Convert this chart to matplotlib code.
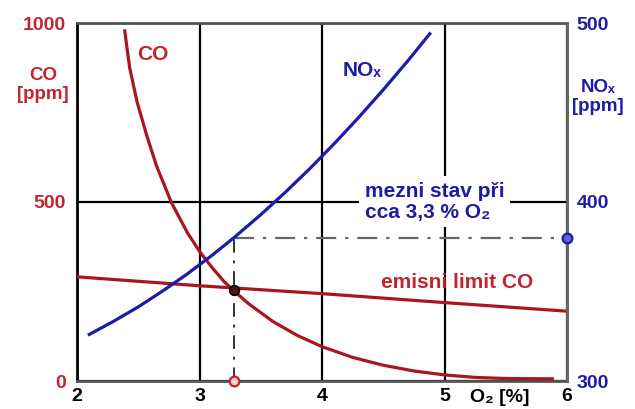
import numpy as np
import matplotlib.pyplot as plt

plt.rcParams['font.family'] = ['Liberation Sans', 'DejaVu Sans']
plt.rcParams['font.weight'] = 'bold'

# CO [ppm] vs O2 [%]  (left axis)
co_x = [2.39, 2.41, 2.43, 2.49, 2.57, 2.65, 2.77, 2.90, 3.00, 3.10, 3.20, 3.27, 3.40,
        3.60, 3.80, 4.00, 4.25, 4.50, 4.75, 5.00, 5.25, 5.50, 5.88]
co_y = [978, 925, 875, 780, 685, 600, 499, 415, 362, 318, 278, 255, 216,
        166, 127, 96, 66, 44, 28, 17, 10, 7, 6]

# NOx [ppm] vs O2 [%]  (right axis)
nox_x = [2.10, 2.30, 2.50, 2.70, 2.90, 3.10, 3.28, 3.50, 3.70, 3.90, 4.10, 4.30, 4.50, 4.70, 4.88]
nox_y = [326, 333.4, 341.4, 350.3, 359.8, 370.1, 380, 392.9, 405.4, 418.6, 432.6, 447.3,
         462.7, 478.8, 494]

# emission limit CO
lim_x = [2, 3, 4, 5, 6]
lim_y = [291, 266, 244, 219, 195]

# operating point
o2_limit = 3.28
nox_limit = 380
co_limit = 255

x_ticks = [2, 3, 4, 5, 6]
co_ticks = [0, 500, 1000]
nox_ticks = [300, 400, 500]

red = '#c4242c'
dred = '#a8161e'
blue = '#1c1ca6'

fig = plt.figure(figsize=(6.35, 4.09), dpi=100)
ax = fig.add_axes([77/635, 1-381/409, 490/635, 358/409])
ax2 = ax.twinx()

ax.set_xlim(2, 6)
ax.set_ylim(0, 1000)
ax2.set_ylim(300, 500)
ax.set_xticks(x_ticks)
ax.set_yticks(co_ticks)
ax2.set_yticks(nox_ticks)

ax.grid(True, color='black', lw=1.6, zorder=0)
ax.tick_params(axis='x', length=0, pad=5, labelsize=14, labelcolor='black')
ax.tick_params(axis='y', length=0, pad=8, labelsize=14, labelcolor=red)
ax2.tick_params(axis='y', length=0, pad=7, labelsize=14, labelcolor=blue)
for lab in ax.get_xticklabels() + ax.get_yticklabels() + ax2.get_yticklabels():
    lab.set_fontweight('bold')

for s in ['top', 'right', 'bottom']:
    ax.spines[s].set_color('#555555')
    ax.spines[s].set_linewidth(2)
ax.spines['left'].set_color('black')
ax.spines['left'].set_linewidth(2)
for s in ['top', 'left', 'bottom']:
    ax2.spines[s].set_visible(False)
ax2.spines['right'].set_color('#666666')
ax2.spines['right'].set_linewidth(2)

# curves
ax.plot(co_x, co_y, color=dred, lw=2.3, zorder=4, solid_joinstyle='round')
ax.plot(lim_x, lim_y, color=dred, lw=2.3, zorder=4)
ax2.plot(nox_x, nox_y, color=blue, lw=2.3, zorder=4, solid_joinstyle='round')

# helper lines
dd = (0, (7, 4, 1.5, 4))
ax.plot([o2_limit, o2_limit], [0, (nox_limit - 300) / 200 * 1000], color='#333333',
        lw=1.4, ls=dd, zorder=3)
ax2.plot([o2_limit, 6], [nox_limit, nox_limit], color='#666666', lw=1.6,
         ls=(0, (9, 4, 1.5, 4)), zorder=3)

ax.plot([o2_limit], [0], 'o', ms=7, mfc='#f6d0d0', mec=red, mew=1.6, clip_on=False, zorder=6)
ax2.plot([6], [nox_limit], 'o', ms=7, mfc='#6060d0', mec=blue, mew=1.6, clip_on=False, zorder=6)
ax.plot([o2_limit], [co_limit], 'o', ms=7, mfc='#5a1010', mec='black', mew=1.2, zorder=6)

# texts
ax.text(2.62, 913, 'CO', color=red, fontsize=15, fontweight='bold', ha='center', va='center')
ax.text(4.33, 866, 'NOₓ', color=blue, fontsize=15, fontweight='bold', ha='center', va='center')
ax.text(5.10, 275, 'emisni limit CO', color=red, fontsize=15, fontweight='bold',
        ha='center', va='center', zorder=5)
ax.text(4.35, 501, 'mezni stav při\ncca 3,3 % O₂', color=blue, fontsize=15, fontweight='bold',
        ha='left', va='center', linespacing=1.15, zorder=2,
        bbox=dict(facecolor='white', edgecolor='none', pad=4))

fig.text(43/635, 1-85/409, 'CO\n[ppm]', color=red, fontsize=13.5, fontweight='bold',
         ha='center', va='center', linespacing=1.1)
fig.text(598/635, 1-97/409, 'NOₓ\n[ppm]', color=blue, fontsize=13.5, fontweight='bold',
         ha='center', va='center', linespacing=1.1)
fig.text(500/635, 1-398/409, 'O₂ [%]', color='black', fontsize=14, fontweight='bold',
         ha='center', va='center')

fig.savefig('out.png', dpi=100)
